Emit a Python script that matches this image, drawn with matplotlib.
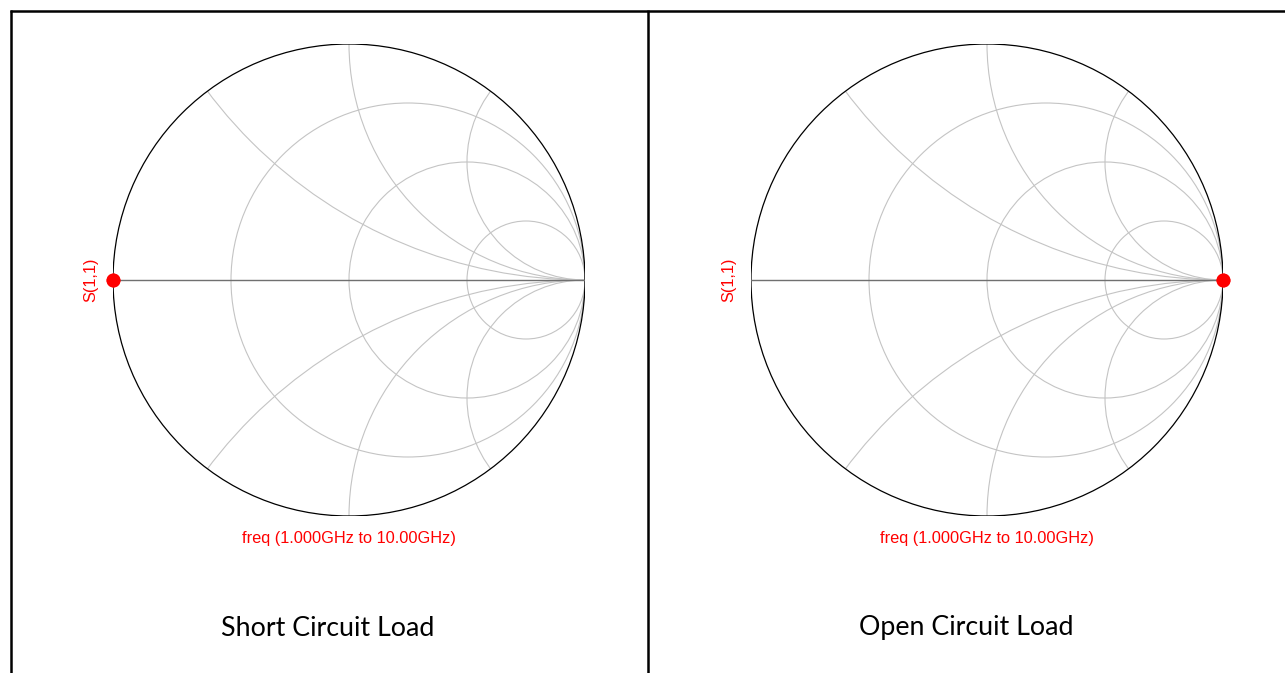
import numpy as np
import matplotlib.pyplot as plt
from matplotlib.patches import Circle
from matplotlib.lines import Line2D

# sweep endpoints and measured reflection coefficient (real, imag)
freq_ghz = [1.0, 10.0]
s11_short_re = [-1.0, -1.0]
s11_short_im = [0.0, 0.0]
s11_open_re = [1.0, 1.0]
s11_open_im = [0.0, 0.0]

# smith chart grid values
r_circles = [1/3, 1.0, 3.0]
x_arcs = [0.5, 1.0, 2.0]

titles = ['Short Circuit Load', 'Open Circuit Load']
sweep_label = 'freq (1.000GHz to 10.00GHz)'
trace_label = 'S(1,1)'

W, H = 1285, 673
fig = plt.figure(figsize=(W / 100, H / 100), dpi=100)

def smith(ax, re, im):
    ax.set_xlim(-1, 1)
    ax.set_ylim(-1, 1)
    ax.axis('off')
    clip = Circle((0, 0), 1, transform=ax.transData)
    for r in r_circles:
        c = Circle((r / (1 + r), 0), 1 / (1 + r), fill=False, ec='#c4c4c4', lw=0.8)
        ax.add_patch(c)
    for x in x_arcs:
        for s in (1, -1):
            c = Circle((1, s / x), 1 / x, fill=False, ec='#c4c4c4', lw=0.8)
            ax.add_patch(c)
            c.set_clip_path(clip)
    ax.plot([-1, 1], [0, 0], color='#707070', lw=1.0)
    ax.add_patch(Circle((0, 0), 1, fill=False, ec='black', lw=0.9))
    ax.plot(re, im, 'o', color='red', ms=9, clip_on=False)
    ax.text(-1.095, 0, trace_label, color='red', rotation=90, ha='center', va='center',
            fontsize=11.8, family='Liberation Sans')
    ax.text(0, -1.097, sweep_label, color='red', ha='center', va='center',
            fontsize=11.8, family='Liberation Sans')

centers = [349, 987]
rad = 236
cy = 280
data = [(s11_short_re, s11_short_im), (s11_open_re, s11_open_im)]
for cx, (re, im) in zip(centers, data):
    ax = fig.add_axes([(cx - rad) / W, (H - cy - rad) / H, 2 * rad / W, 2 * rad / H])
    smith(ax, re, im)

# frame lines
def hline(x0, x1, y):
    fig.add_artist(Line2D([x0 / W, x1 / W], [1 - y / H, 1 - y / H], color='black', lw=1.8,
                          solid_capstyle='butt'))

def vline(x, y0, y1):
    fig.add_artist(Line2D([x / W, x / W], [1 - y0 / H, 1 - y1 / H], color='black', lw=1.8,
                          solid_capstyle='butt'))

hline(9.5, W, 10.5)
vline(10.5, 9.5, H)
vline(648, 10, H)

for xc, t in zip([328, 966.5], titles):
    fig.text(xc / W, 1 - 628 / H, t, ha='center', va='center', fontsize=19.3, family='Lato')

fig.savefig('out.png', dpi=100)
